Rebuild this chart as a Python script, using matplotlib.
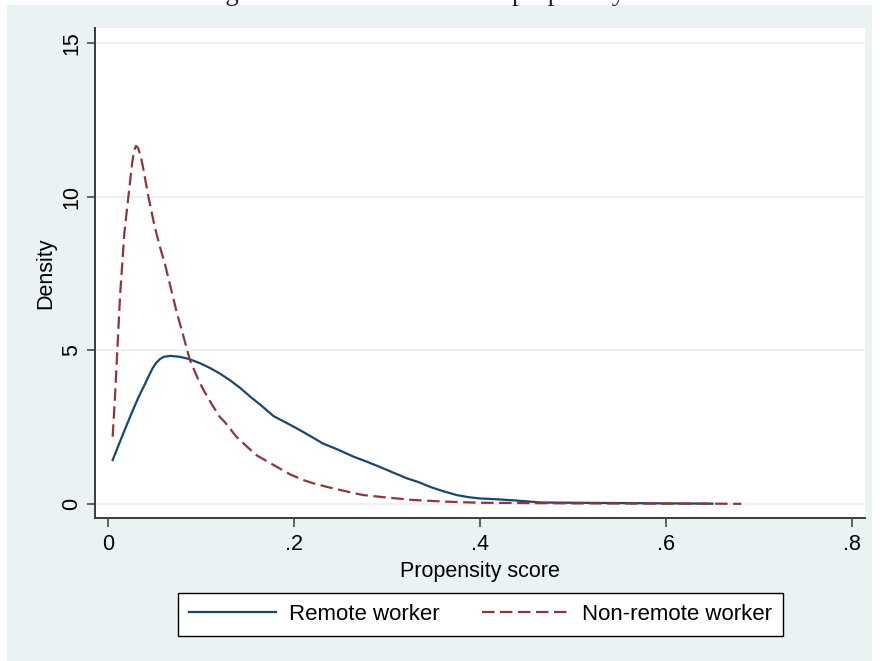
#!/usr/bin/env python3
"""Kernel density of the propensity score, remote vs. non-remote workers
(Stata s2color look)."""

import matplotlib

matplotlib.use("Agg")
import matplotlib as mpl  # noqa: E402
import matplotlib.pyplot as plt  # noqa: E402
from matplotlib.patches import Rectangle  # noqa: E402

# ---------------------------------------------------------------------------
# Data
# ---------------------------------------------------------------------------
REMOTE_X = [0.005, 0.015, 0.025, 0.033, 0.040, 0.044, 0.048, 0.052, 0.056,
            0.060, 0.067, 0.077, 0.087, 0.099, 0.110, 0.120, 0.131, 0.142,
            0.153, 0.165, 0.178, 0.190, 0.203, 0.217, 0.231, 0.248, 0.264,
            0.278, 0.292, 0.306, 0.321, 0.335, 0.346, 0.360, 0.375, 0.388,
            0.400, 0.420, 0.440, 0.465, 0.500, 0.550, 0.600, 0.650]
REMOTE_Y = [1.43, 2.19, 2.93, 3.49, 3.92, 4.18, 4.42, 4.60, 4.72,
            4.79, 4.82, 4.79, 4.72, 4.58, 4.42, 4.25, 4.03, 3.78,
            3.49, 3.20, 2.86, 2.67, 2.46, 2.22, 1.97, 1.76, 1.54,
            1.38, 1.21, 1.03, 0.84, 0.70, 0.56, 0.42, 0.29, 0.22,
            0.18, 0.15, 0.11, 0.05, 0.04, 0.03, 0.02, 0.01]

NONREMOTE_X = [0.005, 0.0075, 0.0129, 0.0175, 0.0219, 0.026, 0.028, 0.030,
               0.032, 0.035, 0.038, 0.0434, 0.050, 0.0555, 0.0613, 0.0738,
               0.083, 0.088, 0.097, 0.1025, 0.1115, 0.120, 0.126, 0.138,
               0.150, 0.160, 0.178, 0.196, 0.210, 0.221, 0.235, 0.249,
               0.262, 0.2745, 0.300, 0.328, 0.364, 0.400, 0.450, 0.500,
               0.550, 0.600, 0.650, 0.681]
NONREMOTE_Y = [2.19, 3.49, 6.75, 8.80, 10.00, 11.10, 11.50, 11.65,
               11.60, 11.35, 10.90, 10.00, 9.05, 8.40, 7.80, 6.25,
               5.25, 4.69, 4.05, 3.72, 3.25, 2.84, 2.65, 2.19,
               1.85, 1.58, 1.27, 0.96, 0.78, 0.67, 0.56, 0.46,
               0.37, 0.29, 0.21, 0.13, 0.075, 0.04, 0.03, 0.02,
               0.015, 0.01, 0.01, 0.005]

X_TICKS = [0, 0.2, 0.4, 0.6, 0.8]
X_TICK_LABELS = ["0", ".2", ".4", ".6", ".8"]
Y_TICKS = [0, 5, 10, 15]
Y_TICK_LABELS = ["0", "5", "10", "15"]

LABELS = ["Remote worker", "Non-remote worker"]

NAVY = "#1A476F"
MAROON = "#90353B"
STATA_BG = "#EAF2F3"


def setup_style() -> None:
    mpl.rcParams.update({
        "font.family": ["Liberation Sans", "DejaVu Sans"],
        "font.size": 15.5,
        "axes.linewidth": 1.4,
        "axes.edgecolor": "#3a3a3a",
        "xtick.major.size": 6.5,
        "ytick.major.size": 6.0,
        "xtick.major.width": 1.1,
        "ytick.major.width": 1.1,
        "xtick.color": "#3a3a3a",
        "ytick.color": "#3a3a3a",
        "xtick.labelcolor": "black",
        "ytick.labelcolor": "black",
    })


def main() -> None:
    setup_style()
    fig = plt.figure(figsize=(8.8, 6.61), dpi=100, facecolor="white")

    # Stata graph region (light blue) with a thin white margin around it
    fig.patches.append(Rectangle((7 / 880, 0), 865 / 880, 1 - 5 / 661,
                                 transform=fig.transFigure,
                                 facecolor=STATA_BG, edgecolor="none",
                                 zorder=-10))

    # cropped caption of the source document: only descenders peek through
    fig.text(203 / 880, 1.0, "Figure 3: Distribution of the propensity score",
             family=["Liberation Serif", "DejaVu Serif"], fontsize=19.3,
             ha="left", va="baseline", color="#222222")

    ax = fig.add_axes([95 / 880, 1 - 518 / 661, 770 / 880, 490 / 661])
    ax.set_facecolor("white")
    for side in ("top", "right"):
        ax.spines[side].set_visible(False)

    ax.set_yticks(Y_TICKS)
    ax.set_yticklabels(Y_TICK_LABELS, rotation=90, va="center")
    ax.set_xticks(X_TICKS)
    ax.set_xticklabels(X_TICK_LABELS)
    ax.tick_params(axis="x", pad=5)
    ax.tick_params(axis="y", pad=3)
    ax.yaxis.grid(True, color=STATA_BG, linewidth=1.5)
    ax.set_axisbelow(True)

    (l1,) = ax.plot(REMOTE_X, REMOTE_Y, color=NAVY, linewidth=1.6,
                    solid_joinstyle="round", zorder=3, label=LABELS[0])
    (l2,) = ax.plot(NONREMOTE_X, NONREMOTE_Y, color=MAROON, linewidth=1.6,
                    dashes=(5.6, 2.5), zorder=3, label=LABELS[1])

    ax.set_xlim(-0.014, 0.814)
    ax.set_ylim(-0.456, 15.49)

    ax.set_xlabel("Propensity score", labelpad=4)
    ax.set_ylabel("Density", labelpad=4)

    leg = fig.legend([l1, l2], LABELS, loc="center",
                     bbox_to_anchor=(480.5 / 880, 1 - 614.5 / 661),
                     ncol=2, frameon=True, fancybox=False, framealpha=1,
                     edgecolor="black", facecolor="white", fontsize=16,
                     handlelength=3.9, handletextpad=0.6,
                     columnspacing=1.9, borderpad=0.5)
    leg.get_frame().set_linewidth(1.0)

    fig.savefig("out.png", dpi=100, facecolor=fig.get_facecolor())
    plt.close(fig)


if __name__ == "__main__":
    main()
